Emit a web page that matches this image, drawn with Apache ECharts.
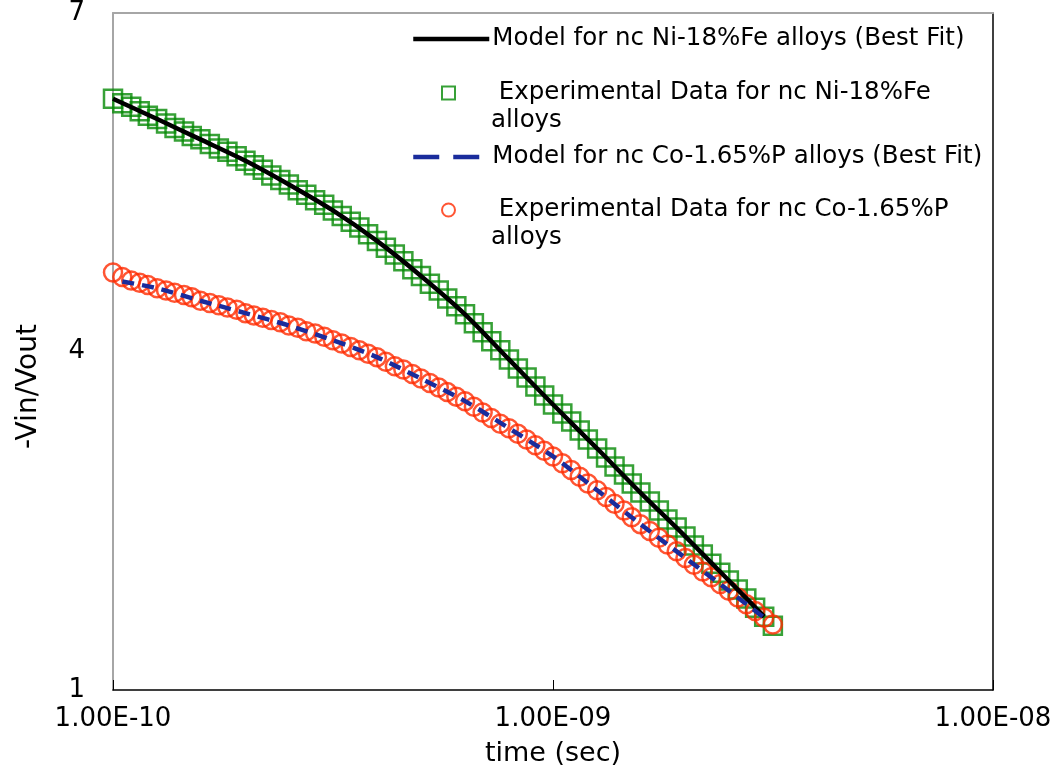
<!DOCTYPE html>
<html>
<head>
    <meta charset="utf-8">
    <script src="https://cdn.jsdelivr.net/npm/echarts@6/dist/echarts.min.js"></script>
    <style type="text/css">
        body { margin: 0; background: #fff; }
        #main { width: 1063px; height: 776px; }
    </style>
</head>
<body>
    <div id="main"></div>
    <script>
        // 测量时间 (sec)
        var timeData = [
            1.00e-10, 1.05e-10, 1.10e-10, 1.15e-10, 1.20e-10, 1.26e-10, 1.32e-10, 1.38e-10, 1.45e-10, 1.51e-10,
            1.58e-10, 1.66e-10, 1.74e-10, 1.82e-10, 1.91e-10, 2.00e-10, 2.09e-10, 2.19e-10, 2.29e-10, 2.40e-10,
            2.51e-10, 2.63e-10, 2.75e-10, 2.88e-10, 3.02e-10, 3.16e-10, 3.31e-10, 3.47e-10, 3.63e-10, 3.80e-10,
            3.98e-10, 4.17e-10, 4.37e-10, 4.57e-10, 4.79e-10, 5.01e-10, 5.25e-10, 5.50e-10, 5.75e-10, 6.03e-10,
            6.31e-10, 6.61e-10, 6.92e-10, 7.24e-10, 7.59e-10, 7.94e-10, 8.32e-10, 8.71e-10, 9.12e-10, 9.55e-10,
            1.00e-9, 1.05e-9, 1.10e-9, 1.15e-9, 1.20e-9, 1.26e-9, 1.32e-9, 1.38e-9, 1.45e-9, 1.51e-9,
            1.58e-9, 1.66e-9, 1.74e-9, 1.82e-9, 1.91e-9, 2.00e-9, 2.09e-9, 2.19e-9, 2.29e-9, 2.40e-9,
            2.51e-9, 2.63e-9, 2.75e-9, 2.88e-9, 3.02e-9, 3.16e-9
        ];
        // 实验数据 Ni-18%Fe
        var expNiFe = [
            6.24, 6.20, 6.17, 6.13, 6.09, 6.06, 6.02, 5.98, 5.95, 5.91,
            5.88, 5.84, 5.80, 5.77, 5.73, 5.69, 5.65, 5.61, 5.56, 5.52,
            5.48, 5.43, 5.39, 5.34, 5.30, 5.25, 5.20, 5.15, 5.10, 5.04,
            4.98, 4.92, 4.86, 4.80, 4.73, 4.67, 4.60, 4.54, 4.47, 4.40,
            4.33, 4.25, 4.17, 4.09, 4.01, 3.93, 3.85, 3.77, 3.69, 3.61,
            3.53, 3.45, 3.38, 3.30, 3.22, 3.14, 3.06, 2.98, 2.91, 2.83,
            2.75, 2.67, 2.59, 2.51, 2.44, 2.36, 2.28, 2.20, 2.12, 2.04,
            1.97, 1.89, 1.81, 1.73, 1.65, 1.57
        ];
        // 实验数据 Co-1.65%P
        var expCoP = [
            4.70, 4.66, 4.63, 4.61, 4.59, 4.56, 4.54, 4.52, 4.50, 4.48,
            4.45, 4.43, 4.41, 4.39, 4.37, 4.34, 4.32, 4.30, 4.28, 4.26,
            4.23, 4.21, 4.18, 4.16, 4.13, 4.10, 4.07, 4.04, 4.01, 3.98,
            3.95, 3.91, 3.87, 3.84, 3.80, 3.76, 3.72, 3.68, 3.64, 3.60,
            3.56, 3.51, 3.46, 3.41, 3.36, 3.32, 3.27, 3.22, 3.17, 3.12,
            3.07, 3.01, 2.95, 2.89, 2.83, 2.77, 2.71, 2.65, 2.59, 2.53,
            2.47, 2.41, 2.35, 2.29, 2.23, 2.17, 2.11, 2.05, 2.00, 1.94,
            1.88, 1.82, 1.76, 1.70, 1.64, 1.58
        ];
        // 模型曲线 (Best Fit)
        var modelTimeNiFe = [1.00e-10, 1.26e-10, 1.58e-10, 2.00e-10, 2.51e-10, 3.16e-10, 3.98e-10, 5.01e-10,
            6.31e-10, 7.94e-10, 1.00e-9, 1.26e-9, 1.58e-9, 2.00e-9, 2.51e-9, 3.02e-9];
        var modelNiFe = [6.24, 6.06, 5.88, 5.69, 5.48, 5.25, 4.98, 4.67, 4.33, 3.93, 3.53, 3.14, 2.75, 2.36, 1.97, 1.65];
        var modelTimeCoP = [1.05e-10, 1.26e-10, 1.58e-10, 2.00e-10, 2.51e-10, 3.16e-10, 3.98e-10, 5.01e-10,
            6.31e-10, 7.94e-10, 1.00e-9, 1.26e-9, 1.58e-9, 2.00e-9, 2.51e-9, 3.02e-9];
        var modelCoP = [4.62, 4.56, 4.45, 4.34, 4.23, 4.10, 3.95, 3.76, 3.56, 3.32, 3.07, 2.77, 2.47, 2.17, 1.88, 1.64];

        var yTicks = [1, 4, 7];

        var names = [
            'Model for nc Ni-18%Fe alloys (Best Fit)',
            'Experimental Data for nc Ni-18%Fe alloys',
            'Model for nc Co-1.65%P alloys (Best Fit)',
            'Experimental Data for nc Co-1.65%P alloys'
        ];

        function pairs(xs, ys) {
            return xs.map(function (x, i) { return [x, ys[i]]; });
        }

        var FONT = 'DejaVu Sans';
        var FS_TICK = 26;
        var FS_LEG = 24.5;

        function legendFor(name, left, top, w, h, text, pad, lineStyle) {
            var lg = {
                data: [name],
                left: left,
                top: top,
                orient: 'vertical',
                padding: 0,
                itemWidth: w,
                itemHeight: h,
                formatter: function () { return text; },
                textStyle: {
                    fontFamily: FONT, fontSize: FS_LEG, color: '#000', lineHeight: 28,
                    padding: pad
                }
            };
            if (lineStyle) {
                lg.itemStyle = { opacity: 0 };
                lg.lineStyle = lineStyle;
            }
            return lg;
        }

        var myChart = echarts.init(document.getElementById('main'));
        var option = {
            backgroundColor: '#fff',
            animation: false,
            grid: { left: 113, right: 70, top: 13, bottom: 86 },
            legend: [
                legendFor(names[0], 411, 25, 76, 14, names[0], [0, 0, 0, -2],
                    { color: '#000', width: 4.5, type: 'solid' }),
                legendFor(names[1], 441, 51, 13, 13, '\n Experimental Data for nc Ni-18%Fe\nalloys', [0, 0, 0, 31]),
                legendFor(names[2], 411, 143, 76, 14, names[2], [0, 0, 0, -2],
                    { color: '#1a2c9c', width: 4.5, type: [26, 14] }),
                legendFor(names[3], 441, 168, 13, 13, '\n Experimental Data for nc Co-1.65%P\nalloys', [0, 0, 0, 31])
            ],
            xAxis: [{
                type: 'log',
                logBase: 10,
                min: 1e-10,
                max: 1e-8,
                position: 'bottom',
                name: 'time (sec)',
                nameLocation: 'middle',
                nameGap: 50,
                nameTextStyle: { fontFamily: FONT, fontSize: 27, color: '#000' },
                axisLine: { lineStyle: { color: '#000', width: 1.5 } },
                axisTick: { show: true, inside: true, length: 10, lineStyle: { color: '#000', width: 1 } },
                axisLabel: {
                    fontFamily: FONT, fontSize: FS_TICK, color: '#000', margin: 16,
                    formatter: function (v) {
                        var s = Number(v).toExponential(2).split('e');
                        var e = parseInt(s[1], 10);
                        var a = Math.abs(e);
                        return s[0] + 'E' + (e < 0 ? '-' : '+') + (a < 10 ? '0' + a : a);
                    }
                },
                splitLine: { show: false },
                minorTick: { show: false }
            }, {
                type: 'log',
                logBase: 10,
                min: 1e-10,
                max: 1e-8,
                position: 'top',
                axisLine: { lineStyle: { color: '#a6a6a6', width: 2 } },
                axisTick: { show: false },
                axisLabel: { show: false },
                splitLine: { show: false }
            }],
            yAxis: [{
                type: 'value',
                min: yTicks[0],
                max: yTicks[yTicks.length - 1],
                interval: yTicks[1] - yTicks[0],
                position: 'left',
                name: '-Vin/Vout',
                nameLocation: 'middle',
                nameRotate: 90,
                nameGap: 70,
                nameTextStyle: { fontFamily: FONT, fontSize: 28, color: '#000', padding: [0, 70, 0, 0] },
                axisLine: { show: true, lineStyle: { color: '#a6a6a6', width: 2 } },
                axisTick: { show: false },
                axisLabel: { fontFamily: FONT, fontSize: FS_TICK, color: '#000', margin: 28 },
                splitLine: { show: false }
            }, {
                type: 'value',
                min: 1,
                max: 7,
                interval: 3,
                position: 'right',
                axisLine: { show: true, lineStyle: { color: '#000', width: 1.5 } },
                axisTick: { show: false },
                axisLabel: { show: false },
                splitLine: { show: false }
            }],
            series: [{
                name: names[1],
                type: 'scatter',
                symbol: 'rect',
                symbolSize: 18,
                itemStyle: { color: 'rgba(0,0,0,0)', borderColor: '#058a05', borderWidth: 2.5 },
                data: pairs(timeData, expNiFe)
            }, {
                name: names[3],
                type: 'scatter',
                symbol: 'circle',
                symbolSize: 18,
                itemStyle: { color: 'rgba(0,0,0,0)', borderColor: '#ff2a00', borderWidth: 2.5 },
                data: pairs(timeData, expCoP)
            }, {
                name: names[0],
                type: 'line',
                symbol: 'none',
                smooth: 0.3,
                lineStyle: { color: '#000', width: 4.5 },
                itemStyle: { color: '#000' },
                data: pairs(modelTimeNiFe, modelNiFe)
            }, {
                name: names[2],
                type: 'line',
                symbol: 'none',
                smooth: 0.3,
                lineStyle: { color: '#1a2c9c', width: 4.5, type: [12, 8] },
                itemStyle: { color: '#1a2c9c' },
                data: pairs(modelTimeCoP, modelCoP)
            }]
        };
        myChart.setOption(option);
    </script>
</body>
</html>
